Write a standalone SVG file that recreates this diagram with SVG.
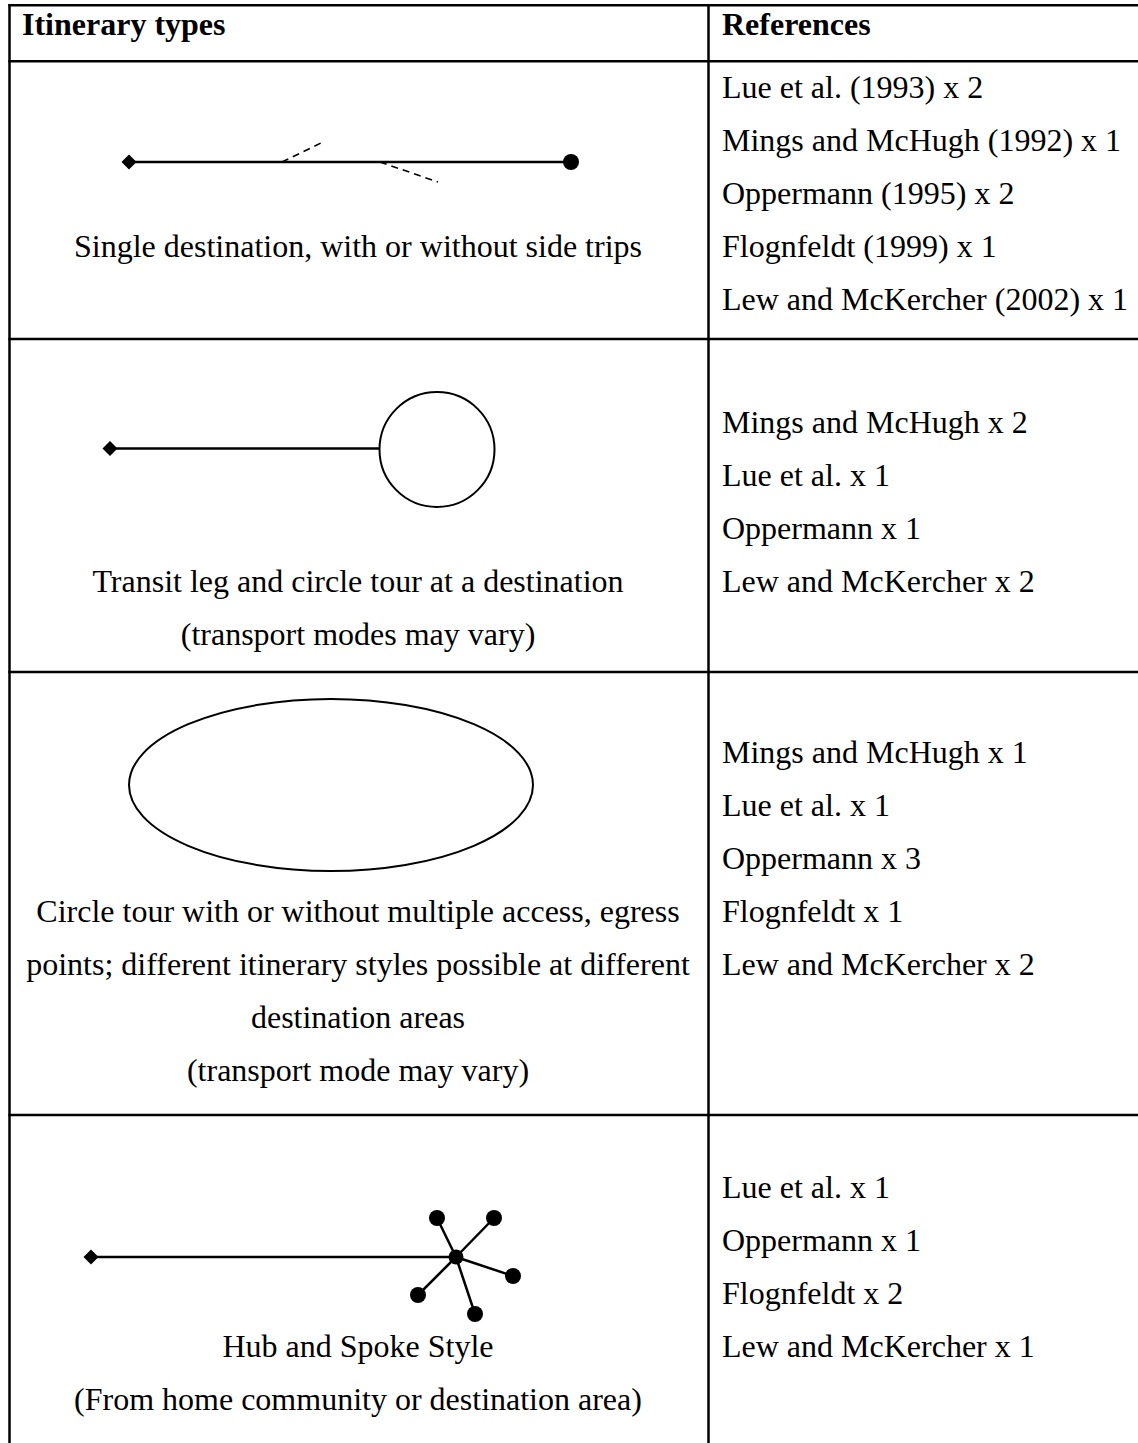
<svg xmlns="http://www.w3.org/2000/svg" width="1138" height="1443" viewBox="0 0 1138 1443">
<style>
.t{font-family:"Liberation Serif","Times New Roman",serif;font-size:32px;fill:#000}
.b{font-weight:bold}
.m{text-anchor:middle}
.grid{stroke:#000;stroke-width:2.5;fill:none}
.ln{stroke:#000;stroke-width:2.5;fill:none}
.thin{stroke:#000;stroke-width:2;fill:none}
.dash{stroke:#000;stroke-width:1.6;stroke-dasharray:7 5;fill:none}
</style>
<defs>
<path id="dia" d="M0,-7.5 L7.5,0 L0,7.5 L-7.5,0 Z" fill="#000"/>
</defs>
<rect width="1138" height="1443" fill="#fff"/>
<g id="grid" class="grid">
<line x1="8.3" y1="5.3" x2="1138" y2="5.3"/>
<line x1="9.5" y1="4" x2="9.5" y2="1443"/>
<line x1="708.5" y1="4" x2="708.5" y2="1443"/>
<line x1="8.3" y1="61.3" x2="1138" y2="61.3"/>
<line x1="8.3" y1="339" x2="1138" y2="339"/>
<line x1="8.3" y1="672" x2="1138" y2="672"/>
<line x1="8.3" y1="1115" x2="1138" y2="1115"/>
</g>
<g id="header">
<text class="t b" x="22" y="35">Itinerary types</text>
<text class="t b" x="722" y="35">References</text>
</g>
<g id="row1">
<g id="row1-diagram">
<line class="dash" x1="282" y1="162" x2="323" y2="142"/>
<line class="dash" x1="380" y1="162" x2="438" y2="182"/>
<line class="ln" x1="129" y1="162" x2="571" y2="162"/>
<use href="#dia" x="129" y="162"/>
<circle cx="571" cy="162" r="8" fill="#000"/>
</g>
<text class="t m" x="358" y="257">Single destination, with or without side trips</text>
<g id="row1-refs">
<text class="t" x="722" y="98">Lue et al. (1993) x 2</text>
<text class="t" x="722" y="151">Mings and McHugh (1992) x 1</text>
<text class="t" x="722" y="204">Oppermann (1995) x 2</text>
<text class="t" x="722" y="257">Flognfeldt (1999) x 1</text>
<text class="t" x="722" y="310">Lew and McKercher (2002) x 1</text>
</g>
</g>
<g id="row2">
<g id="row2-diagram">
<line class="ln" x1="110" y1="448.5" x2="379" y2="448.5"/>
<use href="#dia" x="110" y="448.5"/>
<circle class="thin" cx="437" cy="449.5" r="57.5"/>
</g>
<text class="t m" x="358" y="592">Transit leg and circle tour at a destination</text>
<text class="t m" x="358" y="645">(transport modes may vary)</text>
<g id="row2-refs">
<text class="t" x="722" y="433">Mings and McHugh x 2</text>
<text class="t" x="722" y="486">Lue et al. x 1</text>
<text class="t" x="722" y="539">Oppermann x 1</text>
<text class="t" x="722" y="592">Lew and McKercher x 2</text>
</g>
</g>
<g id="row3">
<ellipse class="thin" cx="331" cy="785" rx="202" ry="86"/>
<text class="t m" x="358" y="922">Circle tour with or without multiple access, egress</text>
<text class="t m" x="358" y="975">points; different itinerary styles possible at different</text>
<text class="t m" x="358" y="1028">destination areas</text>
<text class="t m" x="358" y="1081">(transport mode may vary)</text>
<g id="row3-refs">
<text class="t" x="722" y="763">Mings and McHugh x 1</text>
<text class="t" x="722" y="816">Lue et al. x 1</text>
<text class="t" x="722" y="869">Oppermann x 3</text>
<text class="t" x="722" y="922">Flognfeldt x 1</text>
<text class="t" x="722" y="975">Lew and McKercher x 2</text>
</g>
</g>
<g id="row4">
<g id="row4-diagram">
<line class="ln" x1="91" y1="1257" x2="456" y2="1257"/>
<use href="#dia" x="91" y="1257"/>
<g class="ln">
<line x1="456" y1="1257" x2="437" y2="1218"/>
<line x1="456" y1="1257" x2="494" y2="1218"/>
<line x1="456" y1="1257" x2="513" y2="1276"/>
<line x1="456" y1="1257" x2="418" y2="1295"/>
<line x1="456" y1="1257" x2="475" y2="1314"/>
</g>
<g fill="#000">
<circle cx="456" cy="1257" r="7.5"/>
<circle cx="437" cy="1218" r="8"/>
<circle cx="494" cy="1218" r="8"/>
<circle cx="513" cy="1276" r="8"/>
<circle cx="418" cy="1295" r="8"/>
<circle cx="475" cy="1314" r="8"/>
</g>
</g>
<text class="t m" x="358" y="1357">Hub and Spoke Style</text>
<text class="t m" x="358" y="1410">(From home community or destination area)</text>
<g id="row4-refs">
<text class="t" x="722" y="1198">Lue et al. x 1</text>
<text class="t" x="722" y="1251">Oppermann x 1</text>
<text class="t" x="722" y="1304">Flognfeldt x 2</text>
<text class="t" x="722" y="1357">Lew and McKercher x 1</text>
</g>
</g>
</svg>
